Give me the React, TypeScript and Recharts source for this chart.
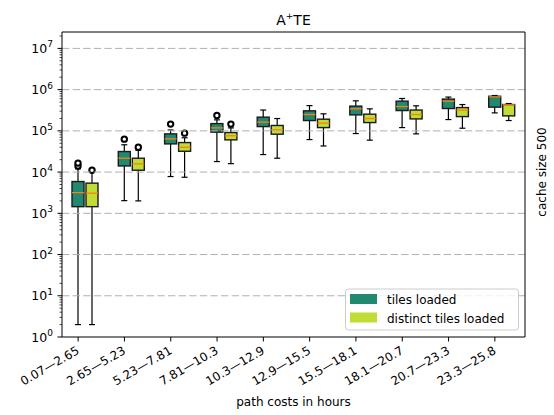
import { ComposedChart, Bar, XAxis, YAxis, ReferenceLine } from 'recharts';

const categories = [
  '0.07—2.65', '2.65—5.23', '5.23—7.81', '7.81—10.3', '10.3—12.9',
  '12.9—15.5', '15.5—18.1', '18.1—20.7', '20.7—23.3', '23.3—25.8',
];

// tiles loaded
const tilesMin = [2, 2030, 7800, 18000, 26600, 61500, 86000, 120000, 188000, 273000];
const tilesQ1 = [1450, 14100, 48300, 93000, 127000, 178000, 244000, 311000, 348000, 376000];
const tilesMedian = [3180, 21700, 64000, 118000, 163000, 249000, 342000, 389000, 525000, 670000];
const tilesQ3 = [5900, 31500, 84500, 150000, 215000, 306000, 398000, 525000, 590000, 690000];
const tilesMax = [12000, 46000, 105000, 185000, 320000, 410000, 535000, 610000, 660000, 720000];
const tilesOutliers = [[14000, 16500], [63000], [146000], [235000], [], [], [], [], [], []];

// distinct tiles loaded
const distinctMin = [2, 2000, 7500, 16000, 21700, 43000, 59500, 84500, 116000, 178000];
const distinctQ1 = [1450, 11100, 32000, 60500, 83000, 120000, 159000, 195000, 222000, 231000];
const distinctMedian = [3080, 15800, 40000, 76000, 106000, 154000, 199000, 249000, 318000, 428000];
const distinctQ3 = [5400, 21700, 52000, 91000, 135000, 192000, 254000, 320000, 367000, 435000];
const distinctMax = [9950, 34000, 68000, 118000, 199000, 259000, 342000, 405000, 435000, 460000];
const distinctOutliers = [[11100], [40000], [88000], [146000], [], [], [], [], [], []];

const majorTicks = [1, 10, 100, 1e3, 1e4, 1e5, 1e6, 1e7];
const minorSteps = [2, 3, 4, 5, 6, 7, 8, 9];
const yMax = 2.5e7;

const TEAL = '#21896f';
const LIME = '#c0dd35';

const yTicks: number[] = [];
majorTicks.forEach(m => {
  yTicks.push(m);
  minorSteps.forEach(s => {
    if (m * s <= yMax) yTicks.push(m * s);
  });
});

const data = categories.map((range, i) => ({
  range,
  tiles: { min: tilesMin[i], q1: tilesQ1[i], med: tilesMedian[i], q3: tilesQ3[i], max: tilesMax[i], out: tilesOutliers[i] },
  distinct: { min: distinctMin[i], q1: distinctQ1[i], med: distinctMedian[i], q3: distinctQ3[i], max: distinctMax[i], out: distinctOutliers[i] },
}));

function makeBox(key: 'tiles' | 'distinct', fill: string) {
  return (props: any) => {
    const { x, y, width, height, payload } = props;
    const s = payload[key];
    const top = Math.min(y, y + height);
    const bottom = Math.max(y, y + height);
    const lo = Math.log10(s.min);
    const hi = Math.log10(s.max);
    // same log mapping as the axis, anchored at the bar's min/max
    const pos = (v: number) => bottom - ((Math.log10(v) - lo) / (hi - lo)) * (bottom - top);
    const cx = x + width / 2;
    const cap = width / 4;
    return (
      <g>
        <line x1={cx} x2={cx} y1={top} y2={pos(s.q3)} stroke="#000" strokeWidth={1.2} />
        <line x1={cx} x2={cx} y1={pos(s.q1)} y2={bottom} stroke="#000" strokeWidth={1.2} />
        <line x1={cx - cap} x2={cx + cap} y1={top} y2={top} stroke="#000" strokeWidth={1.2} />
        <line x1={cx - cap} x2={cx + cap} y1={bottom} y2={bottom} stroke="#000" strokeWidth={1.2} />
        <rect x={x} y={pos(s.q3)} width={width} height={pos(s.q1) - pos(s.q3)} fill={fill} stroke="#1a1a1a" strokeWidth={1.4} />
        <line x1={x} x2={x + width} y1={pos(s.med)} y2={pos(s.med)} stroke="#ff7f0e" strokeWidth={1.3} />
        {s.out.map((o: number, j: number) => (
          <circle key={j} cx={cx} cy={pos(o)} r={2.7} fill="#fff" stroke="#000" strokeWidth={2} />
        ))}
      </g>
    );
  };
}

const YTick = (props: any) => {
  const { x, y, payload } = props;
  const v = payload.value;
  const exp = Math.round(Math.log10(v));
  const major = Math.abs(Math.log10(v) - exp) < 1e-9;
  if (!major) {
    return <line x1={x - 2.5} x2={x} y1={y} y2={y} stroke="#000" strokeWidth={0.7} />;
  }
  return (
    <g>
      <line x1={x - 4.5} x2={x} y1={y} y2={y} stroke="#000" strokeWidth={1} />
      <text x={x - 9} y={y + 4.5} textAnchor="end" fontSize={12.5} fill="#000" fontFamily="DejaVu Sans">
        10<tspan dy={-5.5} fontSize={9}>{exp}</tspan>
      </text>
    </g>
  );
};

const XTick = (props: any) => {
  const { x, y, payload } = props;
  const tx = x - 7;
  const ty = y + 16;
  return (
    <g>
      <line x1={tx} x2={tx} y1={y} y2={y + 4.5} stroke="#000" strokeWidth={1} />
      <text x={tx + 2} y={ty} textAnchor="end" fontSize={12} fill="#000" fontFamily="DejaVu Sans"
        transform={`rotate(-30 ${tx + 2} ${ty})`}>
        {payload.value}
      </text>
    </g>
  );
};

export default function App() {
  return (
    <div style={{ position: 'absolute', left: 0, top: 0, width: 554, height: 415, background: '#fff', fontFamily: 'DejaVu Sans' }}>
      <ComposedChart width={554} height={415} data={data} margin={{ top: 32, right: 0, bottom: 0, left: 0 }}
        barSize={12} barGap={2}>
        <XAxis dataKey="range" height={78} interval={0} tickSize={0} tickMargin={0} tick={<XTick />}
          axisLine={{ stroke: '#000', strokeWidth: 1 }} tickLine={false} />
        <YAxis yAxisId="left" scale="log" domain={[1, yMax]} allowDataOverflow ticks={yTicks} interval={0}
          width={62} tickSize={0} tickMargin={0} tick={<YTick />} tickLine={false}
          axisLine={{ stroke: '#000', strokeWidth: 1 }} />
        <YAxis yAxisId="right" orientation="right" width={29} tick={false} tickLine={false}
          axisLine={{ stroke: '#000', strokeWidth: 1 }} />
        {majorTicks.slice(1).map(t => (
          <ReferenceLine key={t} yAxisId="left" y={t} stroke="#b0b0b0" strokeWidth={1} strokeDasharray="7.4 3.2" />
        ))}
        <ReferenceLine yAxisId="left" y={yMax} stroke="#000" strokeWidth={1} />
        <Bar yAxisId="left" name="tiles loaded" dataKey={(d: any) => [d.tiles.min, d.tiles.max]}
          fill={TEAL} shape={makeBox('tiles', TEAL)} isAnimationActive={false} />
        <Bar yAxisId="left" name="distinct tiles loaded" dataKey={(d: any) => [d.distinct.min, d.distinct.max]}
          fill={LIME} shape={makeBox('distinct', LIME)} isAnimationActive={false} />
      </ComposedChart>
      <svg width={554} height={415} style={{ position: 'absolute', left: 0, top: 0, pointerEvents: 'none' }}
        fontFamily="DejaVu Sans">
        <text x={293.5} y={25} textAnchor="middle" fontSize={14} fill="#000">
          A<tspan dy={-6} fontSize={9}>+</tspan><tspan dy={6}>TE</tspan>
        </text>
        <text x={293.5} y={406} textAnchor="middle" fontSize={12} fill="#000">path costs in hours</text>
        <text x={546} y={172} textAnchor="middle" fontSize={12} fill="#000" transform="rotate(-90 546 172)">
          cache size 500
        </text>
        <rect x={345.5} y={289} width={173} height={41} rx={3} fill="#fff" fillOpacity={0.8} stroke="#cccccc" />
        <rect x={350} y={294} width={27} height={10} fill={TEAL} />
        <text x={387} y={304} fontSize={12} fill="#000">tiles loaded</text>
        <rect x={350} y={312.5} width={27} height={10} fill={LIME} />
        <text x={387} y={322.5} fontSize={12} fill="#000">distinct tiles loaded</text>
      </svg>
    </div>
  );
}
